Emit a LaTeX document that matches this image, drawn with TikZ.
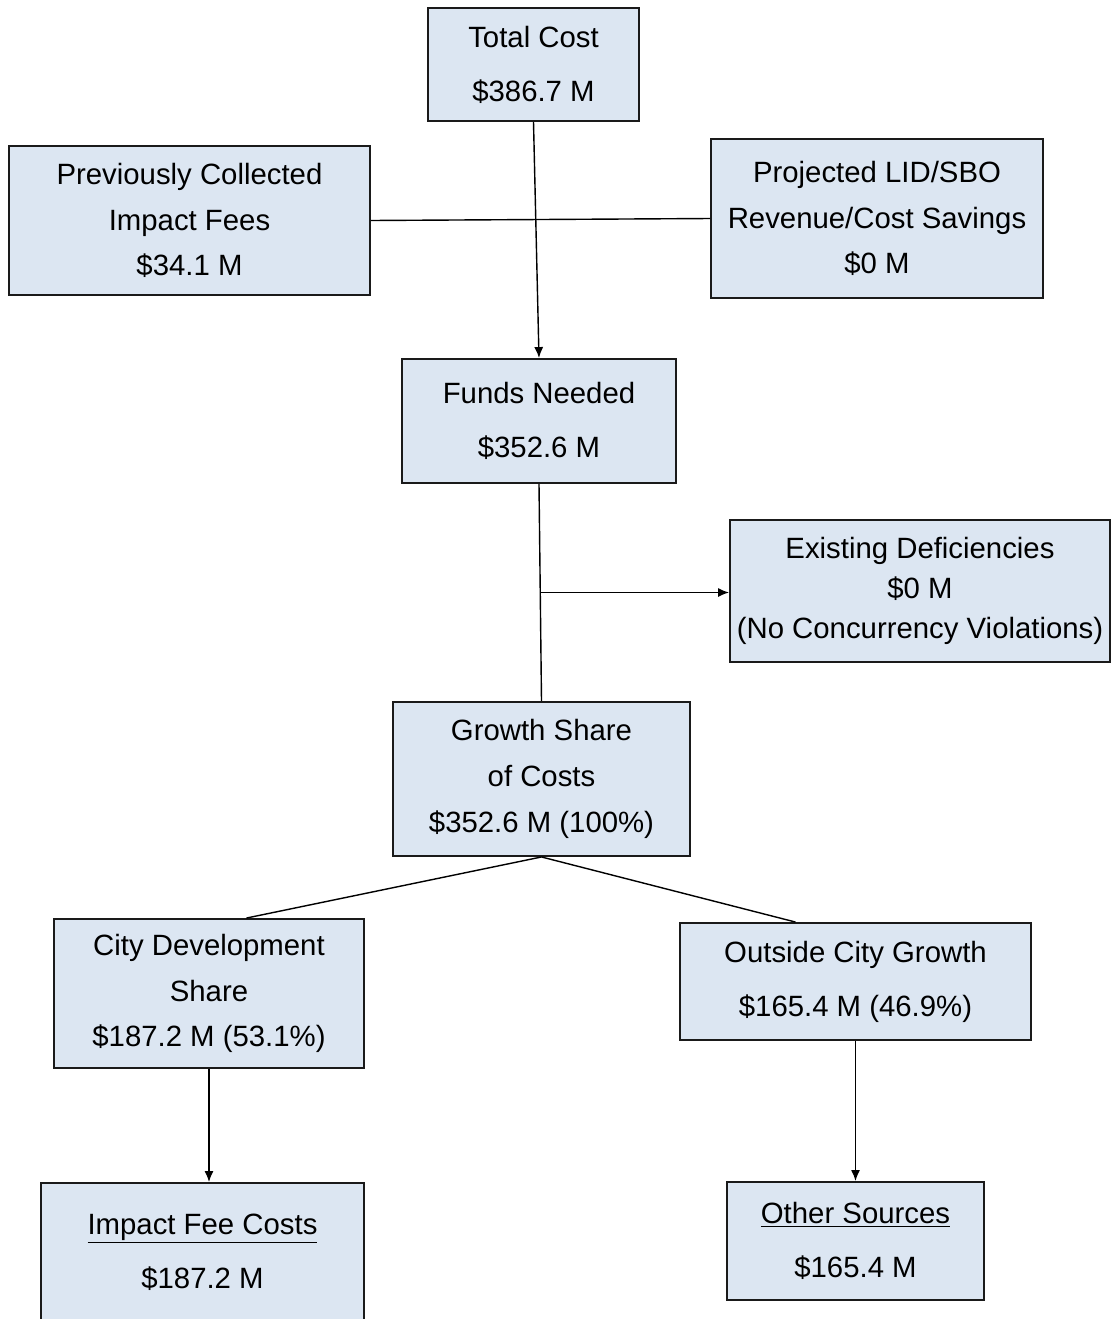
\documentclass[tikz,border=0pt]{standalone}
\usepackage{fontspec}
\setmainfont{Liberation Sans}
\usepackage{tikz}
\usetikzlibrary{arrows.meta,positioning,calc}
\definecolor{boxfill}{HTML}{DCE6F2}
\definecolor{boxline}{HTML}{1A1A1A}
\tikzset{
  costbox/.style={draw=boxline,fill=boxfill,line width=1.1pt,align=center,
    inner sep=0pt,font=\fontsize{16.7}{26}\selectfont},
  twoline/.style={font=\fontsize{16.7}{30.7}\selectfont},
  flowarrow/.style={-{Latex[length=2.2mm,width=1.8mm]},line width=0.8pt,draw=black},
  flowline/.style={line width=0.8pt,draw=black}
}
\begin{document}
\begin{tikzpicture}[x=0.02cm,y=-0.02cm]
  \useasboundingbox (0,0) rectangle (1110,1319);
  \node[costbox,twoline,minimum width=4.22cm,minimum height=2.26cm] (total) at (533.5,64.5) {Total Cost\\\$386.7 M};
  \node[costbox,minimum width=7.22cm,minimum height=2.98cm] (prev) at (189.5,220.5) {Previously Collected\\Impact Fees\\\$34.1 M};
  \node[costbox,minimum width=6.64cm,minimum height=3.18cm] (proj) at (877,218.5) {Projected LID/SBO\\Revenue/Cost Savings\\\$0 M};
  \node[costbox,twoline,minimum width=5.48cm,minimum height=2.48cm] (funds) at (539,421) {Funds Needed\\\$352.6 M};
  \node[costbox,font=\fontsize{16.7}{22.7}\selectfont,minimum width=7.6cm,minimum height=2.84cm] (exist) at (920,591) {Existing Deficiencies\\\$0 M\\(No Concurrency Violations)};
  \node[costbox,minimum width=5.94cm,minimum height=3.08cm] (growth) at (541.5,779) {Growth Share\\of Costs\\\$352.6 M (100\%)};
  \node[costbox,minimum width=6.2cm,minimum height=2.98cm] (city) at (209,993.5) {City Development\\Share\\\$187.2 M (53.1\%)};
  \node[costbox,twoline,minimum width=7.02cm,minimum height=2.34cm] (outside) at (855.5,981.5) {Outside City Growth\\\$165.4 M (46.9\%)};
  \node[costbox,twoline,minimum width=6.46cm,minimum height=2.76cm] (impact) at (202.5,1252) {\underline{Impact Fee Costs}\\\$187.2 M};
  \node[costbox,twoline,minimum width=5.14cm,minimum height=2.36cm] (other) at (855.5,1241) {\underline{Other Sources}\\\$165.4 M};
  % top part
  \draw[flowarrow] (total.south) -- (funds.north);
  \draw[flowline] (prev.east) -- (proj.west);
  % deficiencies branch
  \draw[flowline] (funds.south) -- (growth.north);
  \coordinate (tap) at ($(funds.south)!0.5!(growth.north)$);
  \draw[flowarrow] (tap) -- (tap -| exist.west);
  % split of growth share
  \draw[flowline] (growth.south) -- ($(city.north west)!0.62!(city.north east)$);
  \draw[flowline] (growth.south) -- ($(outside.north west)!0.33!(outside.north east)$);
  \draw[flowarrow] (city.south) -- (city.south |- impact.north);
  \draw[flowarrow] (outside.south) -- (other.north);
\end{tikzpicture}
\end{document}
